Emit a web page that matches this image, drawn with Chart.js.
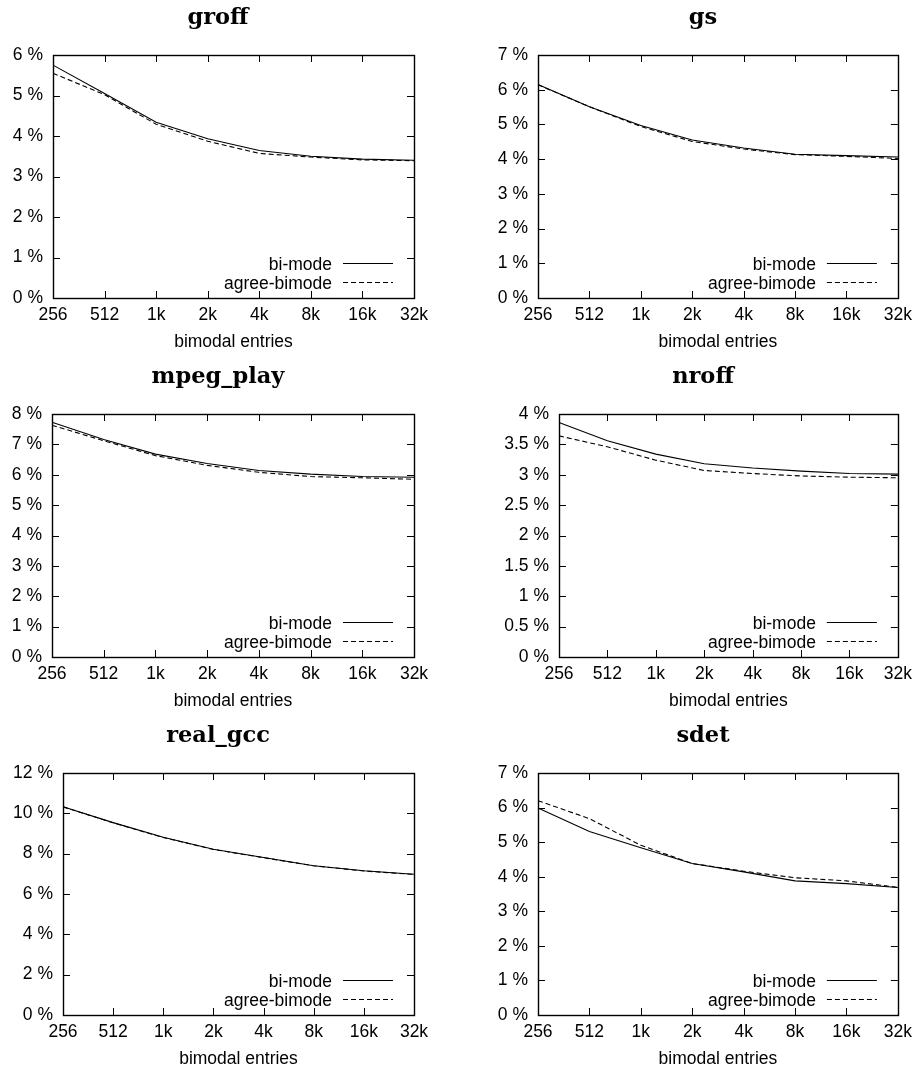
<!DOCTYPE html>
<html><head><meta charset="utf-8">
<script src="https://cdn.jsdelivr.net/npm/chart.js@4.4.1/dist/chart.umd.min.js"></script>
<style>
html,body{margin:0;padding:0;background:#fff;}
#wrap{position:relative;width:919px;height:1074px;overflow:hidden;background:#fff;}
canvas{position:absolute;}
</style></head><body><div id="wrap"></div>
<script>
// ---- data ----
const xLabels = ['256', '512', '1k', '2k', '4k', '8k', '16k', '32k'];
const seriesNames = ['bi-mode', 'agree-bimode'];
const xAxisTitle = 'bimodal entries';

const groffBiMode   = [5.75, 5.05, 4.34, 3.93, 3.64, 3.50, 3.43, 3.40];
const groffAgree    = [5.55, 5.02, 4.29, 3.87, 3.57, 3.48, 3.41, 3.39];
const gsBiMode      = [6.15, 5.51, 4.97, 4.55, 4.32, 4.14, 4.10, 4.06];
const gsAgree       = [6.14, 5.51, 4.94, 4.51, 4.29, 4.13, 4.08, 4.02];
const mpegBiMode    = [7.73, 7.16, 6.68, 6.37, 6.14, 6.02, 5.94, 5.92];
const mpegAgree     = [7.63, 7.12, 6.63, 6.31, 6.08, 5.94, 5.90, 5.85];
const nroffBiMode   = [3.86, 3.56, 3.34, 3.18, 3.11, 3.06, 3.02, 3.01];
const nroffAgree    = [3.64, 3.46, 3.24, 3.07, 3.02, 2.98, 2.96, 2.95];
const gccBiMode     = [10.33, 9.54, 8.81, 8.22, 7.81, 7.40, 7.15, 6.98];
const gccAgree      = [10.32, 9.53, 8.80, 8.21, 7.80, 7.40, 7.14, 6.97];
const sdetBiMode    = [5.99, 5.31, 4.84, 4.38, 4.14, 3.88, 3.80, 3.69];
const sdetAgree     = [6.20, 5.68, 4.91, 4.38, 4.16, 3.97, 3.88, 3.69];

const titles = ['groff', 'gs', 'mpeg_play', 'nroff', 'real_gcc', 'sdet'];
const yMaxes = [6, 7, 8, 4, 12, 7];
const ySteps = [1, 1, 1, 0.5, 2, 1];
const biSeries = [groffBiMode, gsBiMode, mpegBiMode, nroffBiMode, gccBiMode, sdetBiMode];
const agreeSeries = [groffAgree, gsAgree, mpegAgree, nroffAgree, gccAgree, sdetAgree];

// ---- layout (page pixels) ----
const boxes = [[0,0,459,355],[459,0,460,355],[0,355,459,360],[459,355,460,360],[0,715,459,359],[459,715,460,359]];
const areas = [[53,55,414,298],[538,55,900,298],[52,414,414,657],[559,414,901,657],[63,773,414,1015],[538,773,900,1015]];
const titleXs = [218, 703, 218, 703, 218, 703];

const sansFont = {family: '"Liberation Sans", Arial, Helvetica, sans-serif', size: 17.5};
const wrap = document.getElementById('wrap');

function framePlugin(idx, cx) {
  return {
    id: 'frame' + idx,
    afterDatasetsDraw(chart) {
      const ctx = chart.ctx;
      const {left, top, right, bottom} = chart.chartArea;
      const xs = chart.scales.x, ys = chart.scales.y;
      ctx.save();
      ctx.strokeStyle = '#000';
      ctx.lineWidth = 1;
      ctx.setLineDash([]);
      ctx.beginPath();
      const tl = 7;
      xs.ticks.forEach((t, i) => {
        const px = Math.round(xs.getPixelForTick(i)) + 0.5;
        ctx.moveTo(px, bottom); ctx.lineTo(px, bottom - tl);
        ctx.moveTo(px, top); ctx.lineTo(px, top + tl);
      });
      ys.ticks.forEach((t, i) => {
        const py = Math.round(ys.getPixelForTick(i)) + 0.5;
        ctx.moveTo(left, py); ctx.lineTo(left + tl, py);
        ctx.moveTo(right, py); ctx.lineTo(right - tl, py);
      });
      ctx.stroke();
      ctx.lineWidth = 1.4;
      ctx.strokeRect(Math.round(left) + 0.5, Math.round(top) + 0.5, Math.round(right - left), Math.round(bottom - top));
      // legend
      ctx.font = sansFont.size + 'px ' + sansFont.family;
      ctx.fillStyle = '#000';
      ctx.textAlign = 'right';
      ctx.textBaseline = 'alphabetic';
      ctx.lineWidth = 1;
      chart.data.datasets.forEach((ds, i) => {
        const ly = Math.round(bottom - 35 + 18.5 * i) + 0.5;
        ctx.fillText(ds.label, right - 82, ly + 6);
        ctx.setLineDash(ds.borderDash || []);
        ctx.beginPath();
        ctx.moveTo(right - 71, ly);
        ctx.lineTo(right - 21, ly);
        ctx.stroke();
      });
      ctx.setLineDash([]);
      // title
      ctx.font = 'bold 22.5px "DejaVu Serif", "Liberation Serif", serif';
      ctx.textAlign = 'center';
      ctx.fillText(titles[idx], titleXs[idx] - cx, top - 31);
      ctx.restore();
    }
  };
}

titles.forEach((name, idx) => {
  const [cx, cy, cw, ch] = boxes[idx];
  const [aL, aT, aR, aB] = areas[idx];
  const L = aL - cx, T = aT - cy, R = aR - cx, B = aB - cy;
  const c = document.createElement('canvas');
  c.width = cw; c.height = ch;
  c.style.left = cx + 'px'; c.style.top = cy + 'px';
  c.style.width = cw + 'px'; c.style.height = ch + 'px';
  wrap.appendChild(c);
  const yW = L - 2;
  const xH = 55;
  new Chart(c, {
    type: 'line',
    data: {
      labels: xLabels,
      datasets: [
        {label: seriesNames[0], data: biSeries[idx], borderColor: '#000', borderWidth: 1.1, pointRadius: 0, tension: 0, fill: false},
        {label: seriesNames[1], data: agreeSeries[idx], borderColor: '#000', borderWidth: 1.1, borderDash: [5, 3], pointRadius: 0, tension: 0, fill: false}
      ]
    },
    options: {
      responsive: false,
      animation: false,
      devicePixelRatio: 1,
      layout: {padding: {left: 2, top: T, right: cw - R, bottom: ch - B - xH}},
      plugins: {legend: {display: false}, title: {display: false}, tooltip: {enabled: false}},
      scales: {
        x: {
          type: 'category', offset: false,
          grid: {display: false, drawTicks: false}, border: {display: false},
          ticks: {font: sansFont, color: '#000', padding: 7, maxRotation: 0, minRotation: 0, autoSkip: false},
          title: {display: true, text: xAxisTitle, font: sansFont, color: '#000', padding: {top: 0, bottom: 0}},
          afterFit: s => { s.height = xH; }
        },
        y: {
          min: 0, max: yMaxes[idx],
          grid: {display: false, drawTicks: false}, border: {display: false},
          ticks: {stepSize: ySteps[idx], font: sansFont, color: '#000', padding: 10, callback: v => v + ' %'},
          afterFit: s => { s.width = yW; }
        }
      }
    },
    plugins: [framePlugin(idx, cx)]
  });
});
</script></body></html>
